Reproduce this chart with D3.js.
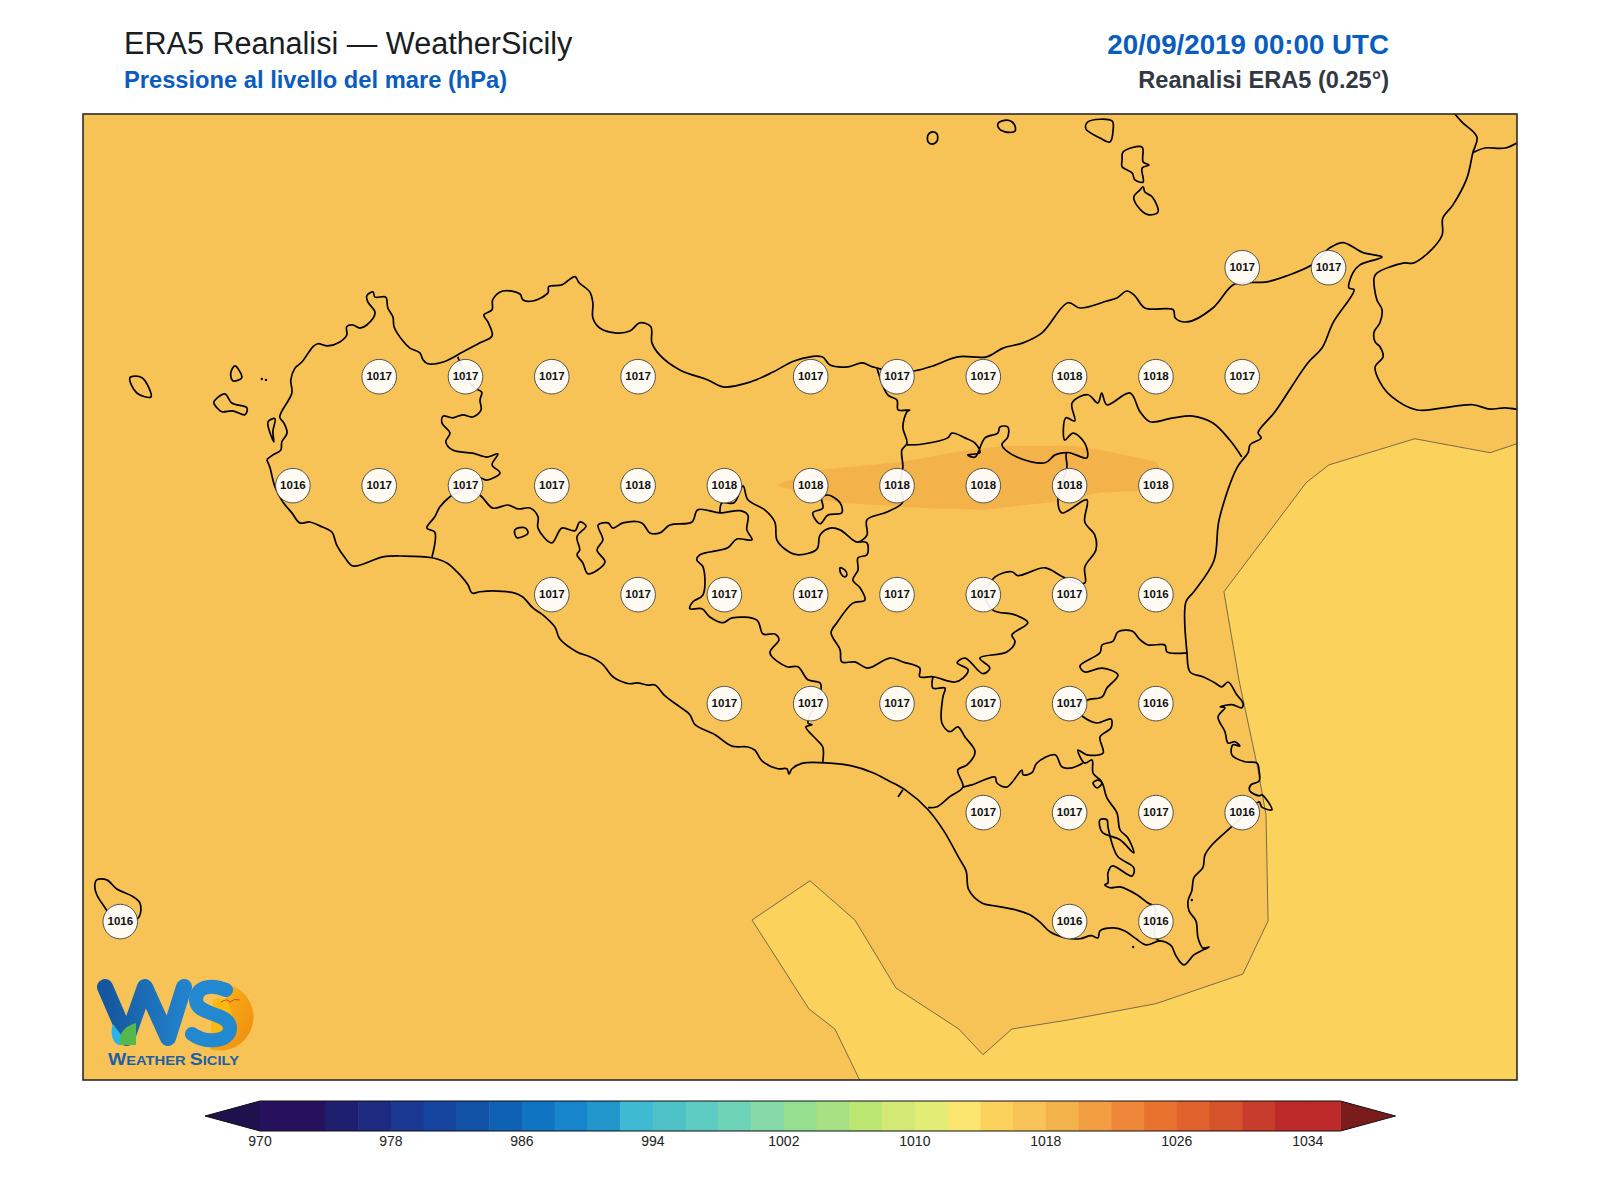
<!DOCTYPE html>
<html>
<head>
<meta charset="utf-8">
<title>ERA5 Reanalisi</title>
<script src="https://cdn.jsdelivr.net/npm/d3@7"></script>
<style>
  body { margin: 0; background: #fff; }
  text { font-family: "Liberation Sans", Arial, sans-serif; }
</style>
</head>
<body>
<div id="chart"></div>
<script>
// Pressure labels on the ERA5 grid
const labelLons = [15.25,15.5, 12.75,13,13.25,13.5,14,14.25,14.5,14.75,15,15.25,
  12.5,12.75,13,13.25,13.5,13.75,14,14.25,14.5,14.75,15,
  13.25,13.5,13.75,14,14.25,14.5,14.75,15,
  13.75,14,14.25,14.5,14.75,15,
  14.5,14.75,15,15.25,
  12,14.75,15];
const labelLats = [38.25,38.25, 38,38,38,38,38,38,38,38,38,38,
  37.75,37.75,37.75,37.75,37.75,37.75,37.75,37.75,37.75,37.75,37.75,
  37.5,37.5,37.5,37.5,37.5,37.5,37.5,37.5,
  37.25,37.25,37.25,37.25,37.25,37.25,
  37,37,37,37,
  36.75,36.75,36.75];
const labelVals = [1017,1017, 1017,1017,1017,1017,1017,1017,1017,1018,1018,1017,
  1016,1017,1017,1017,1018,1018,1018,1018,1018,1018,1018,
  1017,1017,1017,1017,1017,1017,1017,1016,
  1017,1017,1017,1017,1017,1016,
  1017,1017,1017,1016,
  1016,1016,1016];

// Colour bar
const levels = d3.range(970, 1038, 2);
const bandColors = ["#26125C","#26125C","#1F1F70","#1C2A80","#1A3892","#16459F","#1253A8","#0F62B3","#0F75C3","#1685CC","#2197CC",
  "#3FBAD3","#4EC1C6","#5ECCC2","#6FD3B7","#84D9A7","#96DF8F","#A7E184","#BCE672","#D2EA75","#E2ED76",
  "#FCE56F","#FBD25C","#F7C256","#F4B24A","#F39E40","#EE873A","#E9722F","#E1622C","#D5522B","#C73C2A","#BC2A2A","#BC2A2A"];
const barTicks = [970,978,986,994,1002,1010,1018,1026,1034];

// Contour outlines of the pressure field [lon, lat]
const contourBelow1016 = [[16.07,37.851],[15.968,37.824],[15.75,37.856],[15.501,37.796],[15.435,37.755],[15.197,37.505],[15.241,37.301],[15.293,37.108],[15.319,36.993],[15.325,36.75],[15.252,36.628],[15,36.56],[14.748,36.523],[14.583,36.502],[14.499,36.443],[14.429,36.502],[14.247,36.596],[14.128,36.752],[13.998,36.842],[13.83,36.752],[13.995,36.548],[14.07,36.502],[14.142,36.385],[14.172,36.339],[16.07,36.339]];
const contourAbove1018 = [[13.899,37.75],[14.033,37.785],[14.267,37.803],[14.455,37.83],[14.568,37.84],[14.76,37.84],[14.838,37.83],[15,37.803],[15.041,37.752],[15,37.739],[14.838,37.732],[14.702,37.711],[14.499,37.693],[14.325,37.697],[14.085,37.709],[14.033,37.716]];

// Coastlines [lon, lat]
const sicilyCoast = [[12.424,37.808],[12.442,37.819],[12.465,37.83],[12.468,37.849],[12.483,37.869],[12.474,37.892],[12.462,37.906],[12.497,37.961],[12.494,37.991],[12.506,38.018],[12.526,38.032],[12.558,38.067],[12.572,38.074],[12.601,38.069],[12.636,38.078],[12.656,38.094],[12.656,38.113],[12.674,38.117],[12.694,38.11],[12.714,38.117],[12.738,38.145],[12.717,38.17],[12.714,38.184],[12.732,38.193],[12.738,38.181],[12.769,38.181],[12.775,38.156],[12.79,38.135],[12.793,38.113],[12.816,38.083],[12.839,38.064],[12.868,38.053],[12.877,38.037],[12.891,38.028],[12.935,38.032],[12.992,38.055],[13.042,38.076],[13.077,38.092],[13.065,38.124],[13.053,38.14],[13.077,38.152],[13.079,38.175],[13.108,38.195],[13.158,38.188],[13.166,38.175],[13.195,38.172],[13.239,38.191],[13.241,38.205],[13.279,38.209],[13.317,38.228],[13.329,38.214],[13.36,38.193],[13.369,38.168],[13.369,38.133],[13.389,38.11],[13.433,38.099],[13.476,38.103],[13.505,38.122],[13.537,38.113],[13.54,38.076],[13.563,38.048],[13.621,38.014],[13.702,37.991],[13.746,37.975],[13.824,37.986],[13.891,38.009],[13.954,38.035],[14.033,38.044],[14.056,38.025],[14.108,38.021],[14.149,38.03],[14.18,38.021],[14.244,38.009],[14.302,38.012],[14.354,38.023],[14.426,38.044],[14.51,38.044],[14.557,38.064],[14.615,38.076],[14.67,38.099],[14.745,38.168],[14.78,38.156],[14.858,38.172],[14.887,38.179],[14.916,38.195],[14.939,38.184],[14.968,38.156],[15.05,38.152],[15.056,38.133],[15.09,38.124],[15.165,38.156],[15.223,38.209],[15.264,38.214],[15.322,38.216],[15.38,38.23],[15.452,38.255],[15.504,38.294],[15.542,38.306],[15.6,38.283],[15.655,38.273],[15.591,38.255],[15.571,38.237],[15.559,38.202],[15.574,38.198],[15.513,38.122],[15.481,38.064],[15.44,38.03],[15.345,37.918],[15.296,37.87],[15.305,37.858],[15.273,37.842],[15.267,37.824],[15.235,37.79],[15.183,37.67],[15.168,37.576],[15.11,37.505],[15.087,37.482],[15.09,37.365],[15.099,37.321],[15.136,37.31],[15.171,37.296],[15.191,37.287],[15.209,37.298],[15.235,37.268],[15.252,37.25],[15.249,37.239],[15.22,37.246],[15.186,37.241],[15.2,37.239],[15.18,37.218],[15.2,37.184],[15.209,37.158],[15.229,37.161],[15.243,37.151],[15.223,37.154],[15.22,37.131],[15.258,37.115],[15.293,37.112],[15.299,37.094],[15.299,37.071],[15.275,37.062],[15.272,37.048],[15.299,37.037],[15.307,37.039],[15.336,37.005],[15.307,37.011],[15.299,37.023],[15.258,36.993],[15.209,36.959],[15.162,36.924],[15.142,36.901],[15.136,36.872],[15.11,36.849],[15.104,36.819],[15.093,36.796],[15.096,36.773],[15.116,36.75],[15.122,36.711],[15.136,36.688],[15.154,36.69],[15.136,36.683],[15.11,36.672],[15.081,36.649],[15.058,36.67],[15.044,36.693],[15.012,36.704],[14.971,36.695],[14.939,36.711],[14.91,36.727],[14.878,36.734],[14.838,36.727],[14.832,36.711],[14.812,36.716],[14.78,36.709],[14.739,36.711],[14.693,36.725],[14.667,36.745],[14.635,36.764],[14.595,36.775],[14.537,36.784],[14.496,36.791],[14.458,36.821],[14.45,36.865],[14.429,36.895],[14.386,36.956],[14.34,37.005],[14.273,37.051],[14.227,37.071],[14.18,37.09],[14.116,37.106],[14.056,37.112],[13.977,37.112],[13.946,37.099],[13.937,37.087],[13.931,37.099],[13.905,37.099],[13.859,37.117],[13.838,37.142],[13.818,37.149],[13.772,37.151],[13.723,37.177],[13.665,37.2],[13.65,37.223],[13.621,37.241],[13.578,37.266],[13.549,37.291],[13.528,37.291],[13.497,37.296],[13.476,37.294],[13.447,37.301],[13.427,37.31],[13.395,37.34],[13.36,37.356],[13.323,37.367],[13.273,37.397],[13.259,37.424],[13.224,37.452],[13.195,37.468],[13.166,37.493],[13.143,37.502],[13.079,37.507],[13.042,37.505],[13.019,37.502],[13.007,37.521],[12.975,37.551],[12.946,37.571],[12.903,37.583],[12.819,37.587],[12.761,37.585],[12.674,37.564],[12.651,37.583],[12.627,37.612],[12.613,37.642],[12.584,37.654],[12.549,37.665],[12.52,37.663],[12.497,37.686],[12.471,37.711],[12.448,37.746],[12.433,37.791],[12.424,37.808]];
const calabriaCoast = [[15.851,38.615],[15.886,38.583],[15.93,38.548],[15.918,38.512],[15.901,38.454],[15.86,38.392],[15.831,38.362],[15.829,38.323],[15.788,38.282],[15.745,38.259],[15.716,38.259],[15.64,38.236],[15.632,38.225],[15.64,38.175],[15.655,38.152],[15.649,38.122],[15.632,38.101],[15.635,38.078],[15.649,38.067],[15.658,38.044],[15.635,38.021],[15.649,37.986],[15.684,37.952],[15.756,37.922],[15.832,37.927],[15.918,37.934],[15.968,37.924],[16.012,37.927],[16.07,37.92]];
const calabriaBranch = [[15.918,38.512],[15.953,38.523],[16.012,38.523],[16.07,38.546]];

// Islands and lakes, closed rings [lon, lat]
const ustica = [[14.34,38.553],[14.354,38.56],[14.366,38.555],[14.366,38.539],[14.351,38.532],[14.34,38.537]];
const alicudi = [[14.543,38.58],[14.569,38.587],[14.589,38.578],[14.592,38.562],[14.563,38.56],[14.543,38.571]];
const salina = [[14.797,38.567],[14.803,38.583],[14.873,38.585],[14.876,38.564],[14.867,38.537],[14.838,38.546]];
const lipari = [[14.902,38.496],[14.905,38.514],[14.96,38.525],[14.963,38.491],[14.98,38.484],[14.96,38.477],[14.963,38.445],[14.939,38.45],[14.931,38.466],[14.902,38.48]];
const vulcano = [[14.954,38.427],[14.963,38.434],[14.968,38.422],[14.989,38.411],[15.006,38.376],[14.977,38.37],[14.948,38.388],[14.936,38.411]];
const marettimo = [[12.028,37.996],[12.063,37.996],[12.089,37.952],[12.048,37.961]];
const levanzo = [[12.332,38.023],[12.352,37.996],[12.326,37.989],[12.32,38.007]];
const favignana = [[12.271,37.94],[12.303,37.959],[12.323,37.938],[12.367,37.927],[12.361,37.911],[12.326,37.92],[12.294,37.918],[12.28,37.927]];
const isolaGrande = [[12.428,37.895],[12.448,37.902],[12.442,37.872],[12.445,37.849]];
const pantelleria = [[11.926,36.83],[11.932,36.844],[11.961,36.844],[11.99,36.823],[12.034,36.807],[12.057,36.791],[12.054,36.759],[11.999,36.741],[11.95,36.787],[11.932,36.81]];
const lakePergusa = [[14.085,37.56],[14.099,37.555],[14.105,37.544],[14.099,37.539],[14.088,37.546]];
const lakeArancio = [[13.143,37.647],[13.172,37.652],[13.181,37.64],[13.149,37.629]];
const enclave = [[14.05,37.727],[14.085,37.709],[14.09,37.686],[14.05,37.681],[14.027,37.661],[14.006,37.686],[14.035,37.697],[14.032,37.72]];
const islets = [[12.41,37.993],[12.422,37.991],[14.934,36.69],[15.104,36.798]];

// Province borders [lon, lat]
const borderTrapani = [[12.978,38.044],[12.984,38.03],[13.021,37.975],[13.047,37.963],[13.042,37.945],[13.045,37.922],[13.021,37.906],[12.992,37.911],[12.963,37.904],[12.935,37.908],[12.932,37.892],[12.955,37.869],[12.943,37.849],[12.963,37.83],[13.021,37.823],[13.062,37.814],[13.094,37.821],[13.077,37.796],[13.1,37.778],[13.062,37.761],[13.042,37.766],[13.013,37.752],[12.978,37.734],[12.955,37.723],[12.926,37.7],[12.911,37.677],[12.888,37.651],[12.911,37.642],[12.903,37.585]];
const borderAgrigento = [[13.013,37.743],[13.047,37.723],[13.079,37.697],[13.123,37.704],[13.152,37.695],[13.187,37.697],[13.21,37.677],[13.21,37.651],[13.25,37.617],[13.279,37.651],[13.317,37.645],[13.331,37.665],[13.349,37.656],[13.323,37.631],[13.331,37.601],[13.323,37.59],[13.34,37.571],[13.355,37.546],[13.404,37.573],[13.381,37.601],[13.398,37.624],[13.384,37.658],[13.413,37.663],[13.427,37.651],[13.456,37.663],[13.511,37.663],[13.534,37.64],[13.563,37.64],[13.592,37.658],[13.656,37.665],[13.673,37.693],[13.737,37.686],[13.795,37.691],[13.818,37.681],[13.815,37.647],[13.83,37.624],[13.786,37.626],[13.76,37.606],[13.679,37.59],[13.67,37.578],[13.688,37.562],[13.688,37.498],[13.659,37.482],[13.65,37.466],[13.685,37.466],[13.708,37.447],[13.746,37.434],[13.772,37.445],[13.844,37.44],[13.862,37.408],[13.896,37.408],[13.908,37.395],[13.882,37.365],[13.931,37.333],[13.963,37.333],[13.992,37.303],[14.027,37.296],[14.03,37.28],[14.012,37.246],[13.992,37.204],[14.004,37.2],[13.986,37.195],[14.018,37.165],[14.035,37.149],[14.035,37.115]];
const borderPalermo = [[14.192,38.018],[14.224,37.956],[14.25,37.945],[14.253,37.922],[14.287,37.922],[14.279,37.918],[14.267,37.883],[14.279,37.846],[14.264,37.83],[14.267,37.791],[14.258,37.75],[14.267,37.711],[14.221,37.688],[14.163,37.67],[14.163,37.635],[14.137,37.619],[14.122,37.624],[14.085,37.647],[14.056,37.651],[14.027,37.635],[14.018,37.603],[13.96,37.59],[13.925,37.603],[13.902,37.624],[13.896,37.665],[13.867,37.693],[13.818,37.716],[13.804,37.748],[13.778,37.709],[13.743,37.709],[13.737,37.686]];
const borderEnna = [[14.137,37.619],[14.163,37.617],[14.163,37.59],[14.137,37.583],[14.137,37.555],[14.122,37.532],[14.143,37.514],[14.157,37.486],[14.122,37.479],[14.076,37.434],[14.059,37.411],[14.085,37.372],[14.09,37.344],[14.128,37.344],[14.166,37.33],[14.229,37.353],[14.267,37.344],[14.316,37.33],[14.316,37.31],[14.354,37.31],[14.418,37.298],[14.441,37.307],[14.456,37.326],[14.424,37.342],[14.447,37.353],[14.499,37.317],[14.519,37.33],[14.49,37.353],[14.568,37.367],[14.592,37.39],[14.583,37.406],[14.629,37.434],[14.592,37.452],[14.528,37.463],[14.505,37.498],[14.534,37.539],[14.583,37.551],[14.6,37.542],[14.679,37.56],[14.731,37.539],[14.794,37.525],[14.794,37.562],[14.826,37.601],[14.823,37.635],[14.794,37.665],[14.8,37.716],[14.728,37.686],[14.716,37.716],[14.742,37.791],[14.742,37.824],[14.8,37.812],[14.794,37.846],[14.76,37.869],[14.736,37.853],[14.739,37.904],[14.765,37.897],[14.757,37.938],[14.803,37.957],[14.832,37.938],[14.843,37.961],[14.858,37.934],[14.925,37.961],[14.954,37.918],[14.983,37.895],[15.05,37.904],[15.107,37.908],[15.165,37.892],[15.214,37.853],[15.249,37.814]];
const borderMessina = [[14.279,37.842],[14.325,37.844],[14.397,37.858],[14.409,37.869],[14.447,37.858],[14.476,37.846],[14.49,37.824],[14.455,37.819],[14.476,37.814],[14.505,37.858],[14.542,37.869],[14.548,37.883],[14.571,37.883],[14.571,37.86],[14.554,37.842],[14.597,37.814],[14.679,37.801],[14.708,37.819],[14.742,37.824]];
const borderSiracusa = [[15.09,37.365],[15.032,37.367],[15.026,37.383],[14.977,37.383],[14.954,37.395],[14.931,37.415],[14.89,37.413],[14.876,37.392],[14.844,37.383],[14.838,37.365],[14.78,37.335],[14.794,37.321],[14.844,37.33],[14.89,37.314],[14.858,37.284],[14.844,37.264],[14.803,37.257],[14.765,37.239],[14.786,37.22],[14.829,37.204],[14.87,37.213],[14.87,37.193],[14.838,37.172],[14.847,37.135],[14.8,37.131],[14.774,37.142],[14.794,37.112],[14.815,37.119],[14.818,37.089],[14.844,37.067],[14.829,37.055],[14.818,37.067],[14.832,37.073],[14.844,37.067],[14.858,37.032],[14.887,36.998],[14.896,36.959],[14.919,36.94],[14.936,36.906],[14.896,36.936],[14.844,36.954],[14.838,36.982],[14.858,36.982],[14.861,36.966],[14.876,36.92],[14.89,36.897],[14.936,36.872],[14.931,36.853],[14.873,36.876],[14.861,36.86],[14.861,36.837],[14.852,36.833],[14.867,36.826],[14.896,36.828],[14.945,36.81],[14.977,36.791],[14.997,36.782],[14.997,36.713],[15.012,36.704]];
const borderGela = [[14.354,37.31],[14.354,37.284],[14.389,37.284],[14.383,37.264],[14.38,37.204],[14.403,37.184],[14.426,37.195],[14.447,37.172],[14.476,37.138],[14.453,37.108],[14.426,37.096],[14.441,37.057],[14.403,37.035],[14.366,37.012],[14.34,37.01]];
const borderRagusa = [[14.441,37.057],[14.467,37.062],[14.534,37.08],[14.539,37.067],[14.568,37.057],[14.612,37.096],[14.615,37.085],[14.641,37.09],[14.655,37.112],[14.708,37.131],[14.728,37.103],[14.757,37.101],[14.789,37.112]];
const breakwater = [[14.253,37.034],[14.267,37.051]];

const coastLines = [sicilyCoast, calabriaCoast, calabriaBranch, borderTrapani, borderAgrigento, borderPalermo, borderEnna, borderMessina, borderSiracusa, borderGela, borderRagusa, breakwater];
const closedRings = [ustica, alicudi, salina, lipari, vulcano, marettimo, levanzo, favignana, isolaGrande, pantelleria, lakePergusa, lakeArancio, enclave];

// Set dimensions
const width = 1600;
const height = 1200;
const map = { left: 83, right: 1517, top: 114, bottom: 1080 };
const barBox = { top: 1101, bottom: 1131, tip: 55 };

const svg = d3.select("#chart")
    .append("svg")
    .attr("width", width)
    .attr("height", height);

// Scales
const xScale = d3.scaleLinear().domain([11.892, 16.046]).range([map.left, map.right]);
const yScale = d3.scaleLinear().domain([36.385, 38.601]).range([map.bottom, map.top]);
const barScale = d3.scaleLinear().domain([970, 1036]).range([260, 1340.5]);
const bandColor = d3.scaleThreshold().domain(levels.slice(1, -1)).range(bandColors);

const line = d3.line().x(d => xScale(d[0])).y(d => yScale(d[1]));
const coastLine = d3.line().x(d => xScale(d[0])).y(d => yScale(d[1])).curve(d3.curveCatmullRom.alpha(0.5));
const ringLine = d3.line().x(d => xScale(d[0])).y(d => yScale(d[1])).curve(d3.curveCatmullRomClosed.alpha(0.5));

svg.append("clipPath").attr("id", "mapClip")
    .append("rect")
    .attr("x", map.left)
    .attr("y", map.top)
    .attr("width", map.right - map.left)
    .attr("height", map.bottom - map.top);

const mapG = svg.append("g").attr("clip-path", "url(#mapClip)");

// Filled pressure field
mapG.append("rect")
    .attr("x", map.left)
    .attr("y", map.top)
    .attr("width", map.right - map.left)
    .attr("height", map.bottom - map.top)
    .attr("fill", bandColor(1017));

mapG.append("path")
    .attr("d", line(contourBelow1016) + "Z")
    .attr("fill", bandColor(1015))
    .attr("stroke", "#444")
    .attr("stroke-width", 0.7);

mapG.append("path")
    .attr("d", line(contourAbove1018) + "Z")
    .attr("fill", bandColor(1019))
    .attr("stroke", "none");

// Coastlines and borders
mapG.selectAll("path.coast")
    .data(coastLines)
    .enter()
    .append("path")
    .attr("class", "coast")
    .attr("d", coastLine)
    .attr("fill", "none")
    .attr("stroke", "#000")
    .attr("stroke-width", 1.7)
    .attr("stroke-linejoin", "round");

mapG.selectAll("path.ring")
    .data(closedRings)
    .enter()
    .append("path")
    .attr("class", "ring")
    .attr("d", ringLine)
    .attr("fill", "none")
    .attr("stroke", "#000")
    .attr("stroke-width", 1.7)
    .attr("stroke-linejoin", "round");

mapG.selectAll("circle.islet")
    .data(islets)
    .enter()
    .append("circle")
    .attr("class", "islet")
    .attr("cx", d => xScale(d[0]))
    .attr("cy", d => yScale(d[1]))
    .attr("r", 1.2)
    .attr("fill", "#000");

// Pressure labels
const labels = mapG.selectAll("g.label")
    .data(labelVals)
    .enter()
    .append("g")
    .attr("class", "label")
    .attr("transform", (d, i) => `translate(${xScale(labelLons[i])},${yScale(labelLats[i]) + 0.7})`);

labels.append("circle")
    .attr("r", 17.3)
    .attr("fill", "#fff")
    .attr("fill-opacity", 0.92)
    .attr("stroke", "#444")
    .attr("stroke-width", 0.9);

labels.append("text")
    .attr("text-anchor", "middle")
    .attr("y", 3.2)
    .attr("font-size", 11.5)
    .attr("font-weight", "bold")
    .attr("fill", "#111")
    .text(d => d);

// Logo
const defs = svg.append("defs");
const wGrad = defs.append("linearGradient").attr("id", "logoW").attr("x1", 0).attr("y1", 0).attr("x2", 1).attr("y2", 0);
wGrad.append("stop").attr("offset", 0).attr("stop-color", "#14569F");
wGrad.append("stop").attr("offset", 1).attr("stop-color", "#2382CC");
const sunGrad = defs.append("linearGradient").attr("id", "logoSun").attr("x1", 0).attr("y1", 0).attr("x2", 1).attr("y2", 1);
sunGrad.append("stop").attr("offset", 0).attr("stop-color", "#FDB813");
sunGrad.append("stop").attr("offset", 1).attr("stop-color", "#EE8A12");

const logo = svg.append("g").attr("class", "logo");
logo.append("path")
    .attr("d", "M230,985 A33,33 0 0 1 210,1049 Z")
    .attr("fill", "url(#logoSun)");
logo.append("path")
    .attr("d", "M213,1000 C224,994 233,1006 232,1020 C230,1034 222,1040 210,1044 Z")
    .attr("fill", "#FDB813");
logo.append("path")
    .attr("d", "M105,987 L127,1038 L145,987 L168,1038 L184,987")
    .attr("fill", "none")
    .attr("stroke", "url(#logoW)")
    .attr("stroke-width", 16)
    .attr("stroke-linejoin", "round")
    .attr("stroke-linecap", "round");
logo.append("path")
    .attr("d", "M226,990 C212,984 196,986 196,1000 C196,1016 230,1012 230,1028 C230,1042 206,1044 192,1034")
    .attr("fill", "none")
    .attr("stroke", "#2288D0")
    .attr("stroke-width", 14)
    .attr("stroke-linecap", "round");
logo.append("path")
    .attr("d", "M113,1024 C110,1032 112,1044 120,1045 L125,1040 Z")
    .attr("fill", "#27B4EE");
logo.append("path")
    .attr("d", "M136,1023 C126,1026 118,1032 120,1045 L136,1045 Z")
    .attr("fill", "#55B84A");
logo.append("path")
    .attr("d", "M221,1002 Q227,998 230,1002 Q234,998 240,1000")
    .attr("fill", "none")
    .attr("stroke", "#C8501E")
    .attr("stroke-width", 1);
const logoText = logo.append("text")
    .attr("x", 108)
    .attr("y", 1065)
    .attr("font-size", 13)
    .attr("font-weight", "bold")
    .attr("fill", "#1C5FA8")
    .attr("textLength", 131)
    .attr("lengthAdjust", "spacingAndGlyphs");
logoText.append("tspan").attr("font-size", 17).text("W");
logoText.append("tspan").text("EATHER ");
logoText.append("tspan").attr("font-size", 17).text("S");
logoText.append("tspan").text("ICILY");

// Map frame
svg.append("rect")
    .attr("x", map.left)
    .attr("y", map.top)
    .attr("width", map.right - map.left)
    .attr("height", map.bottom - map.top)
    .attr("fill", "none")
    .attr("stroke", "#2b2b2b")
    .attr("stroke-width", 1.6);

// Titles
svg.append("text").attr("x", 124).attr("y", 54)
    .attr("font-size", 30.6).attr("fill", "#1a1d22")
    .text("ERA5 Reanalisi — WeatherSicily");
svg.append("text").attr("x", 124).attr("y", 88)
    .attr("font-size", 23.7).attr("font-weight", "bold").attr("fill", "#0A5CBF")
    .text("Pressione al livello del mare (hPa)");
svg.append("text").attr("x", 1389).attr("y", 54).attr("text-anchor", "end")
    .attr("font-size", 27.7).attr("font-weight", "bold").attr("fill", "#0A5CBF")
    .text("20/09/2019 00:00 UTC");
svg.append("text").attr("x", 1389).attr("y", 88).attr("text-anchor", "end")
    .attr("font-size", 23.6).attr("font-weight", "bold").attr("fill", "#333842")
    .text("Reanalisi ERA5 (0.25°)");

// Colour bar
const barMid = (barBox.top + barBox.bottom) / 2;
const bar = svg.append("g");
bar.append("path")
    .attr("d", `M${barScale(970)},${barBox.top}L${barScale(970) - barBox.tip},${barMid}L${barScale(970)},${barBox.bottom}Z`)
    .attr("fill", "#1E114E");
bar.append("path")
    .attr("d", `M${barScale(1036)},${barBox.top}L${barScale(1036) + barBox.tip},${barMid}L${barScale(1036)},${barBox.bottom}Z`)
    .attr("fill", "#7B1C1C");
bar.selectAll("rect")
    .data(levels.slice(0, -1))
    .enter()
    .append("rect")
    .attr("x", d => barScale(d))
    .attr("y", barBox.top)
    .attr("width", d => barScale(d + 2) - barScale(d) + 0.5)
    .attr("height", barBox.bottom - barBox.top)
    .attr("fill", d => bandColor(d + 1));
bar.append("path")
    .attr("d", `M${barScale(970)},${barBox.top}L${barScale(970) - barBox.tip},${barMid}L${barScale(970)},${barBox.bottom}L${barScale(1036)},${barBox.bottom}L${barScale(1036) + barBox.tip},${barMid}L${barScale(1036)},${barBox.top}Z`)
    .attr("fill", "none")
    .attr("stroke", "#111")
    .attr("stroke-width", 1);

const barAxis = svg.append("g")
    .attr("transform", `translate(-0.5,${barBox.bottom})`)
    .call(d3.axisBottom(barScale).tickValues(barTicks).tickSize(0).tickPadding(5).tickFormat(d3.format("d")));
barAxis.select(".domain").remove();
barAxis.selectAll("text")
    .attr("font-family", "Liberation Sans, Arial, sans-serif")
    .attr("font-size", 14)
    .attr("fill", "#222");
</script>
</body>
</html>
